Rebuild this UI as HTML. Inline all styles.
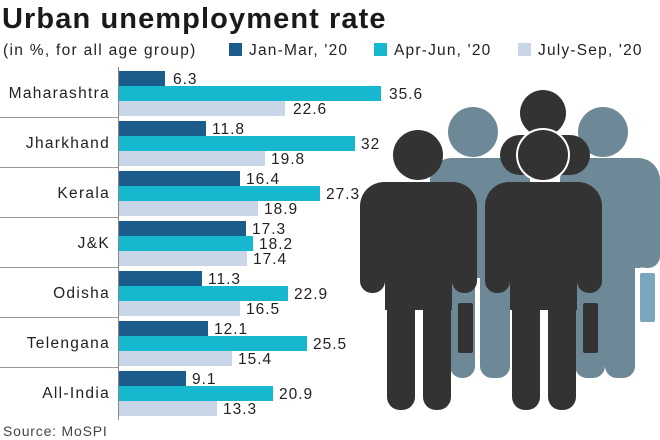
<!DOCTYPE html>
<html><head><meta charset="utf-8"><style>
body{margin:0;background:#fff;}
svg{display:block;font-family:"Liberation Sans",sans-serif;}
</style></head><body>
<svg width="660" height="440" viewBox="0 0 660 440">
<text x="2" y="28" font-size="29" font-weight="bold" fill="#1a1a1a" letter-spacing="1.1">Urban unemployment rate</text>
<text x="3" y="55" font-size="15.5" fill="#222" letter-spacing="1.3">(in %, for all age group)</text>
<rect x="229" y="43" width="13" height="13" fill="#1b5c8c"/><text x="249" y="55" font-size="15.5" fill="#222" letter-spacing="1.2">Jan-Mar, '20</text>
<rect x="374" y="43" width="13" height="13" fill="#15b8cf"/><text x="394" y="55" font-size="15.5" fill="#222" letter-spacing="1.2">Apr-Jun, '20</text>
<rect x="518" y="43" width="13" height="13" fill="#c8d6e7"/><text x="538" y="55" font-size="15.5" fill="#222" letter-spacing="1.2">July-Sep, '20</text>

<g fill="#6d8997">
<circle cx="473" cy="132" r="25"/><circle cx="603" cy="132" r="25"/>
<rect x="430" y="158" width="100" height="120" rx="22"/>
<rect x="450" y="250" width="25" height="128" rx="12"/><rect x="480" y="250" width="30" height="128" rx="12"/>
<rect x="560" y="158" width="100" height="110" rx="22"/>
<rect x="635" y="170" width="25" height="98" rx="12"/>
<rect x="575" y="240" width="30" height="138" rx="12"/><rect x="605" y="240" width="30" height="138" rx="12"/>
</g>
<rect x="640" y="273" width="15" height="49" rx="2" fill="#7aa6bd"/>
<circle cx="543" cy="113" r="23" fill="#333"/>
<rect x="500" y="135" width="90" height="40" rx="20" fill="#333"/>
<g fill="#333">
<circle cx="418" cy="155" r="25"/>
<rect x="360" y="182" width="117" height="70" rx="24"/>
<rect x="360" y="200" width="25" height="93" rx="12"/><rect x="452" y="200" width="25" height="93" rx="12"/>
<rect x="385" y="190" width="67" height="120"/>
<rect x="387" y="290" width="28" height="120" rx="13"/><rect x="423" y="290" width="28" height="120" rx="13"/>
<rect x="458" y="303" width="15" height="50" rx="2"/>
</g>
<circle cx="543" cy="155" r="27" fill="#fff"/>
<g fill="#333">
<circle cx="543" cy="155" r="25"/>
<rect x="485" y="182" width="117" height="70" rx="24"/>
<rect x="485" y="200" width="25" height="93" rx="12"/><rect x="577" y="200" width="25" height="93" rx="12"/>
<rect x="510" y="190" width="67" height="120"/>
<rect x="512" y="290" width="28" height="120" rx="13"/><rect x="548" y="290" width="28" height="120" rx="13"/>
<rect x="583" y="303" width="15" height="50" rx="2"/>
</g>

<line x1="118.5" y1="67" x2="118.5" y2="420" stroke="#888" stroke-width="1"/>
<g stroke="#999" stroke-width="1">
<line x1="0" y1="117.5" x2="118" y2="117.5"/><line x1="0" y1="167.5" x2="118" y2="167.5"/>
<line x1="0" y1="217.5" x2="118" y2="217.5"/><line x1="0" y1="267.5" x2="118" y2="267.5"/>
<line x1="0" y1="317.5" x2="118" y2="317.5"/><line x1="0" y1="367.5" x2="118" y2="367.5"/>
</g>
<g font-size="15.5" fill="#222" text-anchor="end" letter-spacing="1.3">
<text x="110" y="98">Maharashtra</text><text x="110" y="148">Jharkhand</text>
<text x="110" y="198">Kerala</text><text x="110" y="248">J&amp;K</text>
<text x="110" y="298">Odisha</text><text x="110" y="348">Telengana</text>
<text x="110" y="398">All-India</text>
</g>
<g font-size="15.5" fill="#222" letter-spacing="1">
<rect x="119" y="71" width="46" height="15" fill="#1b5c8c"/><rect x="119" y="86" width="262" height="15" fill="#15b8cf"/><rect x="119" y="101" width="166" height="15" fill="#c8d6e7"/>
<text x="173" y="84">6.3</text><text x="389" y="99">35.6</text><text x="293" y="114">22.6</text>
<rect x="119" y="121" width="87" height="15" fill="#1b5c8c"/><rect x="119" y="136" width="236" height="15" fill="#15b8cf"/><rect x="119" y="151" width="146" height="15" fill="#c8d6e7"/>
<text x="212" y="134">11.8</text><text x="361" y="149">32</text><text x="271" y="164">19.8</text>
<rect x="119" y="171" width="121" height="15" fill="#1b5c8c"/><rect x="119" y="186" width="201" height="15" fill="#15b8cf"/><rect x="119" y="201" width="139" height="15" fill="#c8d6e7"/>
<text x="246" y="184">16.4</text><text x="326" y="199">27.3</text><text x="264" y="214">18.9</text>
<rect x="119" y="221" width="127" height="15" fill="#1b5c8c"/><rect x="119" y="236" width="134" height="15" fill="#15b8cf"/><rect x="119" y="251" width="128" height="15" fill="#c8d6e7"/>
<text x="252" y="234">17.3</text><text x="259" y="249">18.2</text><text x="253" y="264">17.4</text>
<rect x="119" y="271" width="83" height="15" fill="#1b5c8c"/><rect x="119" y="286" width="169" height="15" fill="#15b8cf"/><rect x="119" y="301" width="121" height="15" fill="#c8d6e7"/>
<text x="208" y="284">11.3</text><text x="294" y="299">22.9</text><text x="246" y="314">16.5</text>
<rect x="119" y="321" width="89" height="15" fill="#1b5c8c"/><rect x="119" y="336" width="188" height="15" fill="#15b8cf"/><rect x="119" y="351" width="113" height="15" fill="#c8d6e7"/>
<text x="214" y="334">12.1</text><text x="313" y="349">25.5</text><text x="238" y="364">15.4</text>
<rect x="119" y="371" width="67" height="15" fill="#1b5c8c"/><rect x="119" y="386" width="154" height="15" fill="#15b8cf"/><rect x="119" y="401" width="98" height="15" fill="#c8d6e7"/>
<text x="192" y="384">9.1</text><text x="279" y="399">20.9</text><text x="223" y="414">13.3</text>
</g>
<text x="3" y="436" font-size="14" fill="#444" letter-spacing="0.8">Source: MoSPI</text>
</svg>
</body></html>
